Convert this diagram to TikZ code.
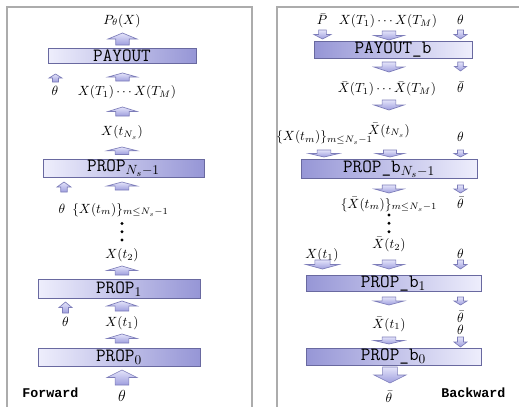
\documentclass[tikz,border=0pt]{standalone}
\usepackage{fontspec}
\newfontfamily\monofnt{Liberation Mono}
\newcommand{\pxu}{0.75pt}
\begin{document}
\begin{tikzpicture}[x=0.75pt, y=-0.75pt, frame/.style={line width=1.1pt, frGray}, fwdbox/.style={draw=bxEdge, line width=0.6pt, left color=bxLight, right color=bxDark, inner sep=0pt, font=\ttfamily\fontsize{14}{16}\selectfont}, bwdbox/.style={fwdbox, left color=bxDark, right color=bxLight}, lbl/.style={anchor=base, inner sep=0pt}, tag/.style={anchor=base west, inner sep=0pt, font=\monofnt\bfseries}, dot/.style={circle, fill=black, inner sep=0pt, minimum size=2.4pt}, arfill/.style={draw=arEdge, line width=0.5pt, top color=arLight, bottom color=arDark}, uparr/.pic={\shade[arfill] (-0.46,0) -- (-0.46,-0.5) -- (-1,-0.5) -- (0,-1) -- (1,-0.5) -- (0.46,-0.5) -- (0.46,0) -- cycle;}, dnarr/.pic={\shade[arfill] (-0.46,0) -- (-0.46,0.5) -- (-1,0.5) -- (0,1) -- (1,0.5) -- (0.46,0.5) -- (0.46,0) -- cycle;}]
\definecolor{frGray}{RGB}{172,172,172}
\definecolor{bxLight}{RGB}{238,238,252}
\definecolor{bxDark}{RGB}{150,150,214}
\definecolor{bxEdge}{RGB}{105,105,160}
\definecolor{arLight}{RGB}{228,228,250}
\definecolor{arDark}{RGB}{158,158,222}
\definecolor{arEdge}{RGB}{125,125,185}
\useasboundingbox (0,0) rectangle (519,407);
% panels
\draw[frame] (7,407) -- (7,7) -- (252,7) -- (252,407);
\draw[frame] (277,407) -- (277,7) -- (519,7);
% forward pass
\node[fwdbox, minimum width=148*\pxu, minimum height=15*\pxu] (payout) at (122,55.8) {PAYOUT};
\node[fwdbox, minimum width=161*\pxu, minimum height=18*\pxu] (propN) at (123.5,168.5) {PROP$_{N_s-1}$};
\node[fwdbox, minimum width=162*\pxu, minimum height=19*\pxu] (prop1) at (119,288.8) {PROP$_1$};
\node[fwdbox, minimum width=162*\pxu, minimum height=18.5*\pxu] (prop0) at (119,357.5) {PROP$_0$};
\node[lbl] (pout) at (122,24) {$P_\theta(X)$};
\node[lbl] (thA) at (55,95) {$\theta$};
\node[lbl] (xT) at (127,95) {$X(T_1)\cdots X(T_M)$};
\node[lbl] (xNs) at (122,136) {$X(t_{N_s})$};
\node[lbl] (thB) at (62,213) {$\theta$};
\node[lbl] (xset) at (120.5,213) {$\{X(t_m)\}_{m\le N_s-1}$};
\foreach \y [count=\i] in {223.5,231.7,240}
  \node[dot] (fd\i) at (122,\y) {};
\node[lbl] (x2) at (122,258) {$X(t_2)$};
\node[lbl] (thC) at (65.5,326) {$\theta$};
\node[lbl] (x1) at (122,326) {$X(t_1)$};
\node[lbl, font=\large] (th0) at (122,401) {$\theta$};
\node[tag] (fwd) at (22,397) {Forward};
\foreach \x/\y/\w/\h in {122.5/45/14.5/12, 55.5/82/6.5/8, 122.5/81/14.5/8, 122.5/116/14.5/9, 122/154.5/15/7.5, 64/192/7/10, 122/190/15/8, 122/275/15/9, 65.5/313/6.5/11, 122/311/15/10, 122/343/15/9, 122/385/15/15}
  \pic[xscale=\w, yscale=\h] at (\x,\y) {uparr};
% backward pass
\node[bwdbox, minimum width=158*\pxu, minimum height=16.6*\pxu] (payoutb) at (393,50) {PAYOUT\_b};
\node[bwdbox, minimum width=176*\pxu, minimum height=19*\pxu] (propbN) at (389,168.8) {PROP\_b$_{N_s-1}$};
\node[bwdbox, minimum width=175*\pxu, minimum height=16.7*\pxu] (propb1) at (393.5,283.4) {PROP\_b$_1$};
\node[bwdbox, minimum width=175*\pxu, minimum height=16.7*\pxu] (propb0) at (393.5,356.7) {PROP\_b$_0$};
\node[lbl] (pbar) at (322,25) {$\bar P$};
\node[lbl] (xTb) at (388,25) {$X(T_1)\cdots X(T_M)$};
\node[lbl] (thD) at (460.5,25) {$\theta$};
\node[lbl] (xbT) at (387,93) {$\bar X(T_1)\cdots\bar X(T_M)$};
\node[lbl] (thbA) at (460.5,93) {$\bar\theta$};
\node[lbl] (xbNs) at (389,134) {$\bar X(t_{N_s})$};
\node[lbl] (xsetb) at (324.5,141) {$\{X(t_m)\}_{m\le N_s-1}$};
\node[lbl] (thE) at (460.5,142) {$\theta$};
\node[lbl] (xbset) at (389,208) {$\{\bar X(t_m)\}_{m\le N_s-1}$};
\node[lbl] (thbB) at (460.5,208) {$\bar\theta$};
\foreach \y [count=\i] in {215,223.3,231.7}
  \node[dot] (bd\i) at (389,\y) {};
\node[lbl] (xb2) at (389,248) {$\bar X(t_2)$};
\node[lbl] (x1b) at (322,258) {$X(t_1)$};
\node[lbl] (thF) at (460.5,258) {$\theta$};
\node[lbl] (xb1) at (389,328) {$\bar X(t_1)$};
\node[lbl] (thbC) at (460.5,322) {$\bar\theta$};
\node[lbl] (thG) at (460.5,334) {$\theta$};
\node[lbl] (thb0) at (389,402) {$\bar\theta$};
\node[tag] (bwd) at (441,397) {Backward};
\foreach \x/\y/\w/\h in {322.5/30/8.5/9, 389/31/15/9, 460.5/30/6.5/9, 389/62/15/10, 460.5/62/6/9, 389/100/15/10, 324/150/15/7, 390/150/14/7, 460.5/150/6.5/7, 389/185/14.5/8, 460.5/185/6.5/8, 322.5/260/16.5/9, 389/260/15/9, 460.5/260/6.5/9, 389/297/15/8, 460.5/297/6.5/8, 389/337/15/7, 460.5/337/6.5/10, 390/367/16/16}
  \pic[xscale=\w, yscale=\h] at (\x,\y) {dnarr};
\end{tikzpicture}
\end{document}
